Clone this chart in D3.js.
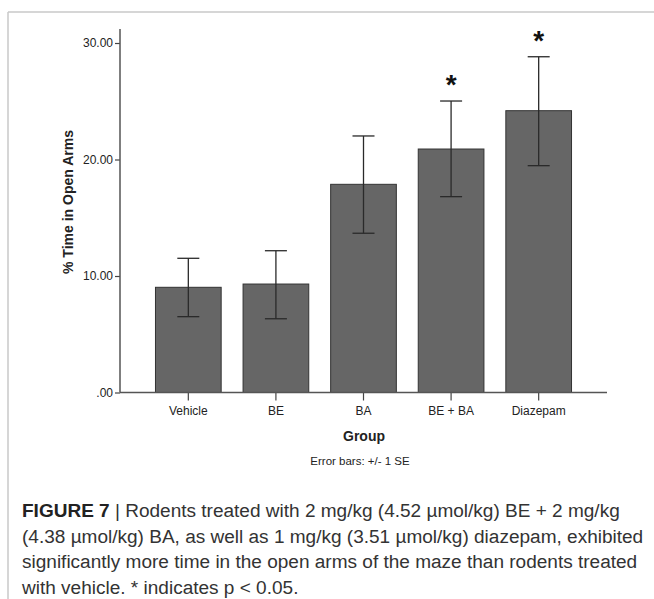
<!DOCTYPE html>
<html>
<head>
<meta charset="utf-8">
<script src="https://cdn.jsdelivr.net/npm/d3@7"></script>
<style>
  html, body { margin: 0; padding: 0; background: #fff; }
  svg { display: block; }
  text { font-family: "Liberation Sans", Arial, Helvetica, sans-serif; }
</style>
</head>
<body>
<svg id="chart" width="654" height="599"></svg>
<script>
// ---- data ----
const categories = ["Vehicle", "BE", "BA", "BE + BA", "Diazepam"];
const means      = [9.03, 9.31, 17.87, 20.90, 24.19];
const errLow     = [6.51, 6.33, 13.67, 16.81, 19.47];
const errHigh    = [11.52, 12.17, 22.02, 25.02, 28.82];
const significant = [false, false, false, true, true];
const yTicks     = [0, 10, 20, 30];
const yTickLabels = [".00", "10.00", "20.00", "30.00"];
const yAxisTitle = "% Time in Open Arms";
const xAxisTitle = "Group";
const errNote    = "Error bars: +/- 1 SE";
const captionBold = "FIGURE 7";
const captionLines = [
  " | Rodents treated with 2 mg/kg (4.52 \u00b5mol/kg) BE + 2 mg/kg",
  "(4.38 \u00b5mol/kg) BA, as well as 1 mg/kg (3.51 \u00b5mol/kg) diazepam, exhibited",
  "significantly more time in the open arms of the maze than rodents treated",
  "with vehicle. * indicates p < 0.05."
];

const svg = d3.select("#chart");

// frame
svg.append("line").attr("x1", 8).attr("x2", 654).attr("y1", 12).attr("y2", 12)
  .attr("stroke", "#c8c8c8").attr("stroke-width", 1.5);
svg.append("line").attr("x1", 8).attr("x2", 8).attr("y1", 12).attr("y2", 599)
  .attr("stroke", "#c8c8c8").attr("stroke-width", 1.5);

const x0 = 120, x1 = 607, yBase = 392.5, yTop = 43;
const x = d3.scaleBand().domain(categories).range([x0, x1])
  .paddingInner(0.25).paddingOuter(0.405);
const y = d3.scaleLinear().domain([0, 30]).range([yBase, yTop]);

const g = svg.append("g");

// bars
g.selectAll("rect.bar").data(categories).join("rect")
  .attr("class", "bar")
  .attr("x", d => x(d))
  .attr("width", x.bandwidth())
  .attr("y", (d, i) => y(means[i]))
  .attr("height", (d, i) => y(0) - y(means[i]))
  .attr("fill", "#666666")
  .attr("stroke", "#333333")
  .attr("stroke-width", 1);

// error bars
const capW = 11;
const eb = g.selectAll("g.err").data(categories).join("g").attr("class", "err");
eb.append("line")
  .attr("x1", d => x(d) + x.bandwidth() / 2).attr("x2", d => x(d) + x.bandwidth() / 2)
  .attr("y1", (d, i) => y(errLow[i])).attr("y2", (d, i) => y(errHigh[i]))
  .attr("stroke", "#2a2a2a").attr("stroke-width", 1.3);
eb.append("line")
  .attr("x1", d => x(d) + x.bandwidth() / 2 - capW).attr("x2", d => x(d) + x.bandwidth() / 2 + capW)
  .attr("y1", (d, i) => y(errHigh[i])).attr("y2", (d, i) => y(errHigh[i]))
  .attr("stroke", "#2a2a2a").attr("stroke-width", 1.3);
eb.append("line")
  .attr("x1", d => x(d) + x.bandwidth() / 2 - capW).attr("x2", d => x(d) + x.bandwidth() / 2 + capW)
  .attr("y1", (d, i) => y(errLow[i])).attr("y2", (d, i) => y(errLow[i]))
  .attr("stroke", "#2a2a2a").attr("stroke-width", 1.3);

// significance asterisks
g.selectAll("text.sig").data(categories.filter((d, i) => significant[i])).join("text")
  .attr("class", "sig")
  .attr("x", d => x(d) + x.bandwidth() / 2)
  .attr("y", d => y(errHigh[categories.indexOf(d)]) - 7)
  .attr("text-anchor", "middle")
  .attr("font-size", 28).attr("font-weight", "bold").attr("fill", "#111")
  .text("*");

// y axis
const yAxis = d3.axisLeft(y).tickValues(yTicks)
  .tickFormat((d, i) => yTickLabels[i]).tickSize(5).tickPadding(2).tickSizeOuter(0);
const yg = svg.append("g").attr("transform", `translate(${x0},0)`).call(yAxis);
yg.select(".domain").remove();
yg.append("line").attr("x1", 0).attr("x2", 0).attr("y1", 29).attr("y2", yBase)
  .attr("stroke", "#555").attr("stroke-width", 1.5);
yg.selectAll(".tick line").attr("stroke", "#444").attr("stroke-width", 1.2);
yg.selectAll(".tick text").attr("font-size", 12).attr("fill", "#222")
  .attr("font-family", "'Liberation Sans', Arial, sans-serif");

// x axis
const xAxis = d3.axisBottom(x).tickSize(8).tickPadding(6).tickSizeOuter(0);
const xg = svg.append("g").attr("transform", `translate(0,${yBase})`).call(xAxis);
xg.select(".domain").remove();
xg.append("line").attr("x1", x0).attr("x2", x1).attr("y1", 0).attr("y2", 0)
  .attr("stroke", "#555").attr("stroke-width", 1.5);
xg.selectAll(".tick line").attr("stroke", "#444").attr("stroke-width", 1.2);
xg.selectAll(".tick text").attr("font-size", 12).attr("fill", "#222")
  .attr("font-family", "'Liberation Sans', Arial, sans-serif");

// axis titles
svg.append("text")
  .attr("transform", "translate(73,202) rotate(-90)")
  .attr("text-anchor", "middle").attr("font-size", 14).attr("font-weight", "bold")
  .attr("fill", "#222").text(yAxisTitle);
svg.append("text")
  .attr("x", 364).attr("y", 441).attr("text-anchor", "middle")
  .attr("font-size", 14).attr("font-weight", "bold").attr("fill", "#222").text(xAxisTitle);
svg.append("text")
  .attr("x", 360).attr("y", 465).attr("text-anchor", "middle")
  .attr("font-size", 11.5).attr("fill", "#222").text(errNote);

// caption
const capX = 22, capY0 = 517, capDy = 25.5;
const cap = svg.append("g").attr("fill", "#333");
const t1 = cap.append("text").attr("x", capX).attr("y", capY0).attr("font-size", 17);
t1.append("tspan").attr("font-weight", "bold").attr("fill", "#222").text(captionBold);
t1.append("tspan").text(captionLines[0]);
// fit first line to reference width (~598px) and use same size for all lines
const w1 = t1.node().getComputedTextLength();
const fs = 17 * 598 / w1;
t1.attr("font-size", fs);
for (let i = 1; i < captionLines.length; i++) {
  cap.append("text").attr("x", capX).attr("y", capY0 + i * capDy)
    .attr("font-size", fs).text(captionLines[i]);
}
</script>
</body>
</html>
